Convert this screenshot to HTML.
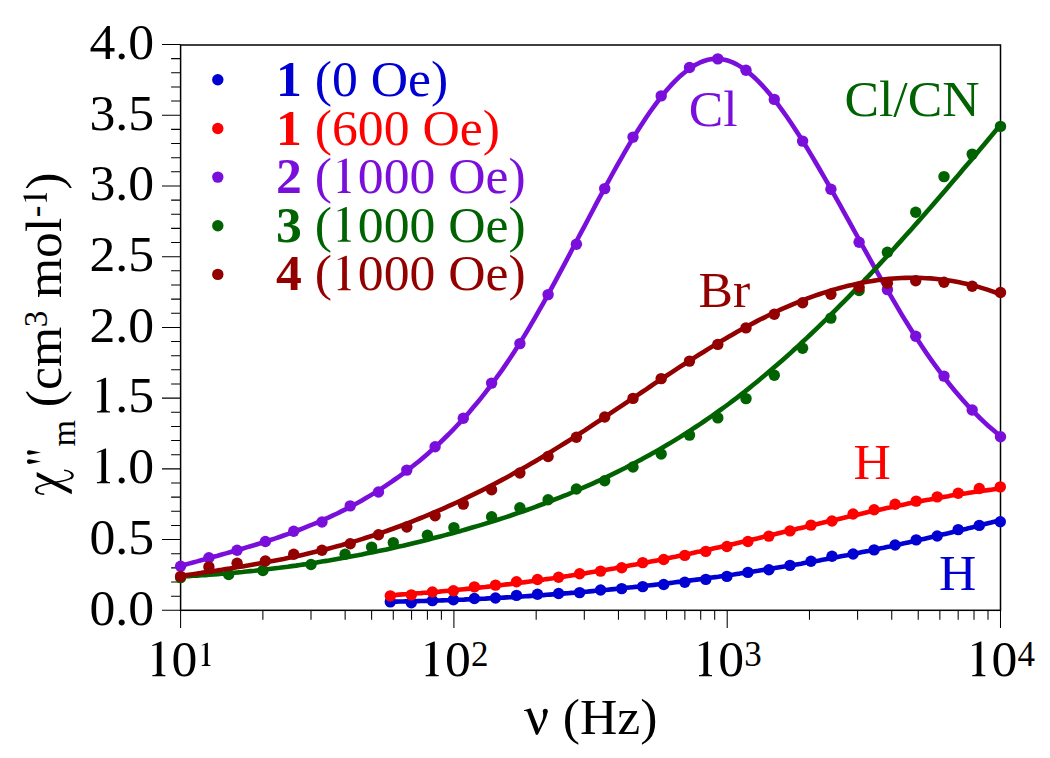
<!DOCTYPE html><html><head><meta charset="utf-8"><style>html,body{margin:0;padding:0;background:#fff;overflow:hidden}svg{display:block}</style></head><body><svg width="1050" height="758" viewBox="0 0 1050 758"><defs><path id="one" d="M0,0 L13,0 L13,-1.1 Q9.3,-1.4 9.1,-3 L9.1,-34.6 L8.2,-34.6 L-0.3,-30.9 L0,-30.3 L4.4,-31.3 L4.4,-3 Q4.2,-1.4 0,-1.1 Z"/></defs><rect width="1050" height="758" fill="#fff"/><rect x="180.6" y="45.0" width="819.9" height="565.3" fill="none" stroke="#000" stroke-width="1.5"/><path d="M162,610.30H180.6 M171.1,596.15H180.6 M171.1,582.01H180.6 M171.1,567.87H180.6 M171.1,553.72H180.6 M162,539.57H180.6 M171.1,525.43H180.6 M171.1,511.28H180.6 M171.1,497.14H180.6 M171.1,482.99H180.6 M162,468.85H180.6 M171.1,454.70H180.6 M171.1,440.56H180.6 M171.1,426.41H180.6 M171.1,412.27H180.6 M162,398.12H180.6 M171.1,383.98H180.6 M171.1,369.83H180.6 M171.1,355.69H180.6 M171.1,341.54H180.6 M162,327.40H180.6 M171.1,313.25H180.6 M171.1,299.11H180.6 M171.1,284.96H180.6 M171.1,270.82H180.6 M162,256.68H180.6 M171.1,242.53H180.6 M171.1,228.38H180.6 M171.1,214.24H180.6 M171.1,200.10H180.6 M162,185.95H180.6 M171.1,171.80H180.6 M171.1,157.66H180.6 M171.1,143.51H180.6 M171.1,129.37H180.6 M162,115.22H180.6 M171.1,101.08H180.6 M171.1,86.93H180.6 M171.1,72.79H180.6 M171.1,58.64H180.6 M162,44.50H180.6 M180.60,610.3V628 M262.87,610.3V619.7 M311.00,610.3V619.7 M345.14,610.3V619.7 M371.63,610.3V619.7 M393.27,610.3V619.7 M411.57,610.3V619.7 M427.41,610.3V619.7 M441.39,610.3V619.7 M453.90,610.3V628 M536.17,610.3V619.7 M584.30,610.3V619.7 M618.44,610.3V619.7 M644.93,610.3V619.7 M666.57,610.3V619.7 M684.87,610.3V619.7 M700.71,610.3V619.7 M714.69,610.3V619.7 M727.20,610.3V628 M809.47,610.3V619.7 M857.60,610.3V619.7 M891.74,610.3V619.7 M918.23,610.3V619.7 M939.87,610.3V619.7 M958.17,610.3V619.7 M974.01,610.3V619.7 M987.99,610.3V619.7 M1000.50,610.3V628" stroke="#000" stroke-width="1.05" fill="none"/><g fill="#0000d2"><path d="M390.3,601.7 L393.4,601.7 L396.4,601.6 L399.5,601.5 L402.6,601.5 L405.6,601.4 L408.7,601.4 L411.8,601.3 L414.8,601.2 L417.9,601.1 L421.0,601.0 L424.0,601.0 L427.1,600.9 L430.1,600.8 L433.2,600.7 L436.3,600.6 L439.3,600.5 L442.4,600.4 L445.5,600.3 L448.5,600.2 L451.6,600.1 L454.7,599.9 L457.7,599.8 L460.8,599.7 L463.9,599.6 L466.9,599.4 L470.0,599.3 L473.1,599.2 L476.1,599.0 L479.2,598.9 L482.3,598.7 L485.3,598.6 L488.4,598.4 L491.5,598.3 L494.5,598.1 L497.6,597.9 L500.7,597.8 L503.7,597.6 L506.8,597.4 L509.8,597.3 L512.9,597.1 L516.0,596.9 L519.0,596.7 L522.1,596.5 L525.2,596.3 L528.2,596.1 L531.3,595.9 L534.4,595.7 L537.4,595.5 L540.5,595.3 L543.6,595.1 L546.6,594.8 L549.7,594.6 L552.8,594.4 L555.8,594.2 L558.9,593.9 L562.0,593.7 L565.0,593.4 L568.1,593.2 L571.2,592.9 L574.2,592.7 L577.3,592.4 L580.4,592.2 L583.4,591.9 L586.5,591.7 L589.5,591.4 L592.6,591.1 L595.7,590.8 L598.7,590.5 L601.8,590.3 L604.9,590.0 L607.9,589.7 L611.0,589.4 L614.1,589.1 L617.1,588.8 L620.2,588.5 L623.3,588.2 L626.3,587.8 L629.4,587.5 L632.5,587.2 L635.5,586.9 L638.6,586.6 L641.7,586.2 L644.7,585.9 L647.8,585.5 L650.9,585.2 L653.9,584.9 L657.0,584.5 L660.0,584.1 L663.1,583.8 L666.2,583.4 L669.2,583.1 L672.3,582.7 L675.4,582.3 L678.4,581.9 L681.5,581.6 L684.6,581.2 L687.6,580.8 L690.7,580.4 L693.8,580.0 L696.8,579.6 L699.9,579.2 L703.0,578.8 L706.0,578.4 L709.1,577.9 L712.2,577.5 L715.2,577.1 L718.3,576.7 L721.4,576.2 L724.4,575.8 L727.5,575.4 L730.6,574.9 L733.6,574.5 L736.7,574.0 L739.7,573.6 L742.8,573.1 L745.9,572.7 L748.9,572.2 L752.0,571.7 L755.1,571.2 L758.1,570.8 L761.2,570.3 L764.3,569.8 L767.3,569.3 L770.4,568.8 L773.5,568.3 L776.5,567.8 L779.6,567.3 L782.7,566.8 L785.7,566.3 L788.8,565.8 L791.9,565.2 L794.9,564.7 L798.0,564.2 L801.1,563.7 L804.1,563.1 L807.2,562.6 L810.2,562.0 L813.3,561.5 L816.4,560.9 L819.4,560.4 L822.5,559.8 L825.6,559.2 L828.6,558.7 L831.7,558.1 L834.8,557.5 L837.8,556.9 L840.9,556.3 L844.0,555.7 L847.0,555.2 L850.1,554.6 L853.2,554.0 L856.2,553.3 L859.3,552.7 L862.4,552.1 L865.4,551.5 L868.5,550.9 L871.6,550.2 L874.6,549.6 L877.7,549.0 L880.8,548.3 L883.8,547.7 L886.9,547.0 L889.9,546.4 L893.0,545.7 L896.1,545.1 L899.1,544.4 L902.2,543.7 L905.3,543.1 L908.3,542.4 L911.4,541.7 L914.5,541.0 L917.5,540.3 L920.6,539.6 L923.7,538.9 L926.7,538.2 L929.8,537.5 L932.9,536.8 L935.9,536.1 L939.0,535.4 L942.1,534.6 L945.1,533.9 L948.2,533.2 L951.3,532.4 L954.3,531.7 L957.4,531.0 L960.5,530.2 L963.5,529.4 L966.6,528.7 L969.6,527.9 L972.7,527.2 L975.8,526.4 L978.8,525.6 L981.9,524.8 L985.0,524.0 L988.0,523.2 L991.1,522.5 L994.2,521.7 L997.2,520.9 L1000.3,520.0" fill="none" stroke="#0000d2" stroke-width="4.6" stroke-linejoin="round"/><circle cx="390.3" cy="601.9" r="5.7"/><circle cx="411.3" cy="602.8" r="5.7"/><circle cx="432.4" cy="600.6" r="5.7"/><circle cx="453.4" cy="599.7" r="5.7"/><circle cx="474.4" cy="598.5" r="5.7"/><circle cx="495.5" cy="598.0" r="5.7"/><circle cx="516.5" cy="595.4" r="5.7"/><circle cx="537.5" cy="594.2" r="5.7"/><circle cx="558.6" cy="593.5" r="5.7"/><circle cx="579.6" cy="592.6" r="5.7"/><circle cx="600.6" cy="590.0" r="5.7"/><circle cx="621.7" cy="588.6" r="5.7"/><circle cx="642.7" cy="586.6" r="5.7"/><circle cx="663.7" cy="584.5" r="5.7"/><circle cx="684.8" cy="582.3" r="5.7"/><circle cx="705.8" cy="579.4" r="5.7"/><circle cx="726.9" cy="576.4" r="5.7"/><circle cx="747.9" cy="572.4" r="5.7"/><circle cx="768.9" cy="569.7" r="5.7"/><circle cx="790.0" cy="565.4" r="5.7"/><circle cx="811.0" cy="561.3" r="5.7"/><circle cx="832.0" cy="556.2" r="5.7"/><circle cx="853.1" cy="554.0" r="5.7"/><circle cx="874.1" cy="549.9" r="5.7"/><circle cx="895.1" cy="545.0" r="5.7"/><circle cx="916.2" cy="539.9" r="5.7"/><circle cx="937.2" cy="536.0" r="5.7"/><circle cx="958.2" cy="529.6" r="5.7"/><circle cx="979.3" cy="525.4" r="5.7"/><circle cx="1000.3" cy="521.7" r="5.7"/></g><g fill="#ff0000"><path d="M390.3,595.2 L393.4,595.0 L396.4,594.9 L399.5,594.6 L402.6,594.4 L405.6,594.2 L408.7,594.0 L411.8,593.8 L414.8,593.6 L417.9,593.3 L421.0,593.1 L424.0,592.8 L427.1,592.6 L430.1,592.3 L433.2,592.1 L436.3,591.8 L439.3,591.6 L442.4,591.3 L445.5,591.0 L448.5,590.7 L451.6,590.4 L454.7,590.1 L457.7,589.8 L460.8,589.5 L463.9,589.2 L466.9,588.9 L470.0,588.6 L473.1,588.3 L476.1,588.0 L479.2,587.6 L482.3,587.3 L485.3,587.0 L488.4,586.6 L491.5,586.3 L494.5,585.9 L497.6,585.5 L500.7,585.2 L503.7,584.8 L506.8,584.4 L509.8,584.1 L512.9,583.7 L516.0,583.3 L519.0,582.9 L522.1,582.5 L525.2,582.1 L528.2,581.7 L531.3,581.3 L534.4,580.9 L537.4,580.4 L540.5,580.0 L543.6,579.6 L546.6,579.1 L549.7,578.7 L552.8,578.3 L555.8,577.8 L558.9,577.4 L562.0,576.9 L565.0,576.4 L568.1,576.0 L571.2,575.5 L574.2,575.0 L577.3,574.5 L580.4,574.0 L583.4,573.5 L586.5,573.1 L589.5,572.5 L592.6,572.0 L595.7,571.5 L598.7,571.0 L601.8,570.5 L604.9,570.0 L607.9,569.4 L611.0,568.9 L614.1,568.4 L617.1,567.8 L620.2,567.3 L623.3,566.7 L626.3,566.2 L629.4,565.6 L632.5,565.0 L635.5,564.5 L638.6,563.9 L641.7,563.3 L644.7,562.7 L647.8,562.2 L650.9,561.6 L653.9,561.0 L657.0,560.4 L660.0,559.8 L663.1,559.1 L666.2,558.5 L669.2,557.9 L672.3,557.3 L675.4,556.7 L678.4,556.0 L681.5,555.4 L684.6,554.7 L687.6,554.1 L690.7,553.5 L693.8,552.8 L696.8,552.1 L699.9,551.5 L703.0,550.8 L706.0,550.1 L709.1,549.5 L712.2,548.8 L715.2,548.1 L718.3,547.4 L721.4,546.7 L724.4,546.0 L727.5,545.3 L730.6,544.6 L733.6,543.9 L736.7,543.2 L739.7,542.5 L742.8,541.8 L745.9,541.0 L748.9,540.3 L752.0,539.6 L755.1,538.9 L758.1,538.2 L761.2,537.4 L764.3,536.7 L767.3,536.0 L770.4,535.2 L773.5,534.5 L776.5,533.8 L779.6,533.0 L782.7,532.3 L785.7,531.6 L788.8,530.8 L791.9,530.1 L794.9,529.4 L798.0,528.6 L801.1,527.9 L804.1,527.2 L807.2,526.4 L810.2,525.7 L813.3,525.0 L816.4,524.2 L819.4,523.5 L822.5,522.8 L825.6,522.0 L828.6,521.3 L831.7,520.6 L834.8,519.9 L837.8,519.2 L840.9,518.4 L844.0,517.7 L847.0,517.0 L850.1,516.3 L853.2,515.6 L856.2,514.9 L859.3,514.2 L862.4,513.5 L865.4,512.8 L868.5,512.1 L871.6,511.5 L874.6,510.8 L877.7,510.1 L880.8,509.4 L883.8,508.8 L886.9,508.1 L889.9,507.5 L893.0,506.8 L896.1,506.2 L899.1,505.5 L902.2,504.9 L905.3,504.3 L908.3,503.6 L911.4,503.0 L914.5,502.4 L917.5,501.8 L920.6,501.2 L923.7,500.6 L926.7,500.0 L929.8,499.5 L932.9,498.9 L935.9,498.3 L939.0,497.8 L942.1,497.2 L945.1,496.7 L948.2,496.2 L951.3,495.6 L954.3,495.1 L957.4,494.6 L960.5,494.1 L963.5,493.6 L966.6,493.2 L969.6,492.7 L972.7,492.2 L975.8,491.8 L978.8,491.3 L981.9,490.9 L985.0,490.5 L988.0,490.1 L991.1,489.7 L994.2,489.3 L997.2,488.9 L1000.3,488.5" fill="none" stroke="#ff0000" stroke-width="4.6" stroke-linejoin="round"/><circle cx="390.3" cy="595.9" r="5.7"/><circle cx="411.3" cy="594.9" r="5.7"/><circle cx="432.4" cy="592.0" r="5.7"/><circle cx="453.4" cy="590.8" r="5.7"/><circle cx="474.4" cy="586.9" r="5.7"/><circle cx="495.5" cy="585.1" r="5.7"/><circle cx="516.5" cy="581.7" r="5.7"/><circle cx="537.5" cy="579.5" r="5.7"/><circle cx="558.6" cy="577.3" r="5.7"/><circle cx="579.6" cy="573.7" r="5.7"/><circle cx="600.6" cy="571.1" r="5.7"/><circle cx="621.7" cy="567.7" r="5.7"/><circle cx="642.7" cy="562.6" r="5.7"/><circle cx="663.7" cy="559.5" r="5.7"/><circle cx="684.8" cy="555.4" r="5.7"/><circle cx="705.8" cy="551.4" r="5.7"/><circle cx="726.9" cy="546.5" r="5.7"/><circle cx="747.9" cy="541.5" r="5.7"/><circle cx="768.9" cy="536.1" r="5.7"/><circle cx="790.0" cy="530.9" r="5.7"/><circle cx="811.0" cy="525.1" r="5.7"/><circle cx="832.0" cy="521.0" r="5.7"/><circle cx="853.1" cy="514.0" r="5.7"/><circle cx="874.1" cy="509.8" r="5.7"/><circle cx="895.1" cy="504.3" r="5.7"/><circle cx="916.2" cy="501.1" r="5.7"/><circle cx="937.2" cy="496.9" r="5.7"/><circle cx="958.2" cy="493.2" r="5.7"/><circle cx="979.3" cy="488.5" r="5.7"/><circle cx="1000.3" cy="486.9" r="5.7"/></g><g fill="#7a0fdc"><path d="M180.6,566.0 L184.7,564.8 L188.8,563.6 L193.0,562.5 L197.1,561.4 L201.2,560.2 L205.3,559.1 L209.4,558.0 L213.6,556.8 L217.7,555.7 L221.8,554.5 L225.9,553.4 L230.0,552.2 L234.2,551.0 L238.3,549.9 L242.4,548.7 L246.5,547.4 L250.6,546.2 L254.8,545.0 L258.9,543.7 L263.0,542.4 L267.1,541.1 L271.2,539.7 L275.4,538.4 L279.5,537.0 L283.6,535.5 L287.7,534.1 L291.8,532.6 L296.0,531.0 L300.1,529.5 L304.2,527.9 L308.3,526.2 L312.4,524.5 L316.6,522.8 L320.7,521.0 L324.8,519.2 L328.9,517.4 L333.0,515.4 L337.2,513.5 L341.3,511.4 L345.4,509.4 L349.5,507.2 L353.6,505.0 L357.8,502.8 L361.9,500.5 L366.0,498.1 L370.1,495.6 L374.2,493.1 L378.4,490.6 L382.5,487.9 L386.6,485.2 L390.7,482.4 L394.8,479.5 L399.0,476.6 L403.1,473.6 L407.2,470.5 L411.3,467.3 L415.4,464.0 L419.6,460.7 L423.7,457.2 L427.8,453.7 L431.9,450.1 L436.0,446.3 L440.2,442.5 L444.3,438.5 L448.4,434.5 L452.5,430.3 L456.6,426.0 L460.8,421.6 L464.9,417.1 L469.0,412.4 L473.1,407.6 L477.2,402.7 L481.4,397.6 L485.5,392.4 L489.6,387.0 L493.7,381.5 L497.8,375.9 L502.0,370.1 L506.1,364.1 L510.2,358.0 L514.3,351.7 L518.4,345.3 L522.6,338.6 L526.7,331.9 L530.8,324.9 L534.9,317.8 L539.0,310.6 L543.2,303.3 L547.3,295.9 L551.4,288.4 L555.5,280.8 L559.6,273.1 L563.8,265.4 L567.9,257.6 L572.0,249.8 L576.1,242.0 L580.2,234.1 L584.4,226.3 L588.5,218.5 L592.6,210.7 L596.7,202.9 L600.9,195.2 L605.0,187.5 L609.1,180.0 L613.2,172.5 L617.3,165.1 L621.5,157.8 L625.6,150.7 L629.7,143.7 L633.8,136.9 L637.9,130.2 L642.1,123.8 L646.2,117.5 L650.3,111.5 L654.4,105.8 L658.5,100.3 L662.7,95.0 L666.8,90.1 L670.9,85.4 L675.0,81.1 L679.1,77.1 L683.3,73.5 L687.4,70.2 L691.5,67.3 L695.6,64.8 L699.7,62.7 L703.9,61.0 L708.0,59.8 L712.1,59.1 L716.2,58.8 L720.3,59.0 L724.5,59.7 L728.6,60.8 L732.7,62.4 L736.8,64.4 L740.9,66.9 L745.1,69.7 L749.2,72.9 L753.3,76.5 L757.4,80.4 L761.5,84.6 L765.7,89.2 L769.8,94.0 L773.9,99.2 L778.0,104.5 L782.1,110.1 L786.3,116.0 L790.4,122.0 L794.5,128.2 L798.6,134.6 L802.7,141.1 L806.9,147.8 L811.0,154.6 L815.1,161.5 L819.2,168.5 L823.3,175.6 L827.5,182.8 L831.6,190.1 L835.7,197.4 L839.8,204.7 L843.9,212.2 L848.1,219.6 L852.2,227.1 L856.3,234.5 L860.4,242.0 L864.5,249.4 L868.7,256.9 L872.8,264.3 L876.9,271.6 L881.0,278.9 L885.1,286.2 L889.3,293.4 L893.4,300.4 L897.5,307.4 L901.6,314.3 L905.7,321.1 L909.9,327.7 L914.0,334.3 L918.1,340.6 L922.2,346.8 L926.3,352.9 L930.5,358.8 L934.6,364.6 L938.7,370.2 L942.8,375.7 L946.9,381.0 L951.1,386.2 L955.2,391.2 L959.3,396.0 L963.4,400.7 L967.5,405.3 L971.7,409.7 L975.8,413.9 L979.9,418.0 L984.0,421.9 L988.1,425.7 L992.3,429.3 L996.4,432.8 L1000.5,436.1" fill="none" stroke="#7a0fdc" stroke-width="4.6" stroke-linejoin="round"/><circle cx="180.6" cy="566.2" r="5.7"/><circle cx="208.9" cy="557.8" r="5.7"/><circle cx="237.1" cy="550.2" r="5.7"/><circle cx="265.4" cy="541.5" r="5.7"/><circle cx="293.7" cy="531.2" r="5.7"/><circle cx="322.0" cy="522.0" r="5.7"/><circle cx="350.2" cy="505.9" r="5.7"/><circle cx="378.5" cy="492.0" r="5.7"/><circle cx="406.8" cy="470.1" r="5.7"/><circle cx="435.1" cy="446.7" r="5.7"/><circle cx="463.3" cy="418.3" r="5.7"/><circle cx="491.6" cy="383.1" r="5.7"/><circle cx="519.9" cy="343.6" r="5.7"/><circle cx="548.1" cy="294.6" r="5.7"/><circle cx="576.4" cy="244.2" r="5.7"/><circle cx="604.7" cy="188.6" r="5.7"/><circle cx="633.0" cy="137.1" r="5.7"/><circle cx="661.2" cy="95.9" r="5.7"/><circle cx="689.5" cy="67.5" r="5.7"/><circle cx="717.8" cy="58.9" r="5.7"/><circle cx="746.0" cy="70.2" r="5.7"/><circle cx="774.3" cy="99.4" r="5.7"/><circle cx="802.6" cy="141.1" r="5.7"/><circle cx="830.9" cy="189.2" r="5.7"/><circle cx="859.1" cy="242.2" r="5.7"/><circle cx="887.4" cy="289.6" r="5.7"/><circle cx="915.7" cy="336.2" r="5.7"/><circle cx="944.0" cy="376.1" r="5.7"/><circle cx="972.2" cy="410.0" r="5.7"/><circle cx="1000.5" cy="436.8" r="5.7"/></g><g fill="#006200"><path d="M180.6,576.5 L184.7,576.3 L188.8,576.1 L193.0,575.8 L197.1,575.6 L201.2,575.3 L205.3,575.1 L209.4,574.8 L213.6,574.5 L217.7,574.1 L221.8,573.8 L225.9,573.5 L230.0,573.1 L234.2,572.7 L238.3,572.4 L242.4,572.0 L246.5,571.5 L250.6,571.1 L254.8,570.7 L258.9,570.2 L263.0,569.8 L267.1,569.3 L271.2,568.8 L275.4,568.3 L279.5,567.8 L283.6,567.2 L287.7,566.7 L291.8,566.1 L296.0,565.6 L300.1,565.0 L304.2,564.4 L308.3,563.7 L312.4,563.1 L316.6,562.5 L320.7,561.8 L324.8,561.1 L328.9,560.5 L333.0,559.8 L337.2,559.0 L341.3,558.3 L345.4,557.6 L349.5,556.8 L353.6,556.0 L357.8,555.3 L361.9,554.5 L366.0,553.6 L370.1,552.8 L374.2,552.0 L378.4,551.1 L382.5,550.2 L386.6,549.4 L390.7,548.5 L394.8,547.5 L399.0,546.6 L403.1,545.7 L407.2,544.7 L411.3,543.7 L415.4,542.7 L419.6,541.7 L423.7,540.7 L427.8,539.7 L431.9,538.6 L436.0,537.6 L440.2,536.5 L444.3,535.4 L448.4,534.3 L452.5,533.2 L456.6,532.0 L460.8,530.9 L464.9,529.7 L469.0,528.5 L473.1,527.3 L477.2,526.1 L481.4,524.9 L485.5,523.6 L489.6,522.3 L493.7,521.1 L497.8,519.8 L502.0,518.4 L506.1,517.1 L510.2,515.7 L514.3,514.3 L518.4,512.9 L522.6,511.5 L526.7,510.0 L530.8,508.6 L534.9,507.1 L539.0,505.5 L543.2,504.0 L547.3,502.4 L551.4,500.9 L555.5,499.2 L559.6,497.6 L563.8,495.9 L567.9,494.3 L572.0,492.5 L576.1,490.8 L580.2,489.0 L584.4,487.2 L588.5,485.4 L592.6,483.6 L596.7,481.7 L600.9,479.8 L605.0,477.9 L609.1,475.9 L613.2,473.9 L617.3,471.9 L621.5,469.8 L625.6,467.8 L629.7,465.6 L633.8,463.5 L637.9,461.3 L642.1,459.1 L646.2,456.8 L650.3,454.6 L654.4,452.2 L658.5,449.9 L662.7,447.5 L666.8,445.1 L670.9,442.6 L675.0,440.1 L679.1,437.6 L683.3,435.0 L687.4,432.4 L691.5,429.7 L695.6,427.0 L699.7,424.3 L703.9,421.5 L708.0,418.7 L712.1,415.9 L716.2,412.9 L720.3,410.0 L724.5,407.0 L728.6,404.0 L732.7,400.9 L736.8,397.8 L740.9,394.6 L745.1,391.4 L749.2,388.1 L753.3,384.8 L757.4,381.5 L761.5,378.1 L765.7,374.6 L769.8,371.1 L773.9,367.6 L778.0,364.0 L782.1,360.4 L786.3,356.8 L790.4,353.1 L794.5,349.3 L798.6,345.6 L802.7,341.7 L806.9,337.9 L811.0,334.0 L815.1,330.1 L819.2,326.1 L823.3,322.1 L827.5,318.1 L831.6,314.0 L835.7,309.9 L839.8,305.7 L843.9,301.6 L848.1,297.4 L852.2,293.1 L856.3,288.9 L860.4,284.6 L864.5,280.2 L868.7,275.9 L872.8,271.5 L876.9,267.1 L881.0,262.6 L885.1,258.2 L889.3,253.7 L893.4,249.2 L897.5,244.6 L901.6,240.1 L905.7,235.5 L909.9,230.9 L914.0,226.2 L918.1,221.6 L922.2,216.9 L926.3,212.2 L930.5,207.5 L934.6,202.7 L938.7,198.0 L942.8,193.2 L946.9,188.4 L951.1,183.6 L955.2,178.8 L959.3,174.0 L963.4,169.1 L967.5,164.3 L971.7,159.4 L975.8,154.5 L979.9,149.6 L984.0,144.7 L988.1,139.7 L992.3,134.8 L996.4,129.8 L1000.5,124.9" fill="none" stroke="#006200" stroke-width="4.6" stroke-linejoin="round"/><circle cx="180.6" cy="577.6" r="5.7"/><circle cx="228.7" cy="574.5" r="5.7"/><circle cx="262.9" cy="570.5" r="5.7"/><circle cx="311.0" cy="564.5" r="5.7"/><circle cx="345.1" cy="554.3" r="5.7"/><circle cx="371.6" cy="547.1" r="5.7"/><circle cx="393.3" cy="542.6" r="5.7"/><circle cx="427.4" cy="535.2" r="5.7"/><circle cx="453.9" cy="527.6" r="5.7"/><circle cx="491.6" cy="516.8" r="5.7"/><circle cx="519.9" cy="507.8" r="5.7"/><circle cx="548.1" cy="499.7" r="5.7"/><circle cx="576.4" cy="489.0" r="5.7"/><circle cx="604.7" cy="480.7" r="5.7"/><circle cx="633.0" cy="467.0" r="5.7"/><circle cx="661.2" cy="454.0" r="5.7"/><circle cx="689.5" cy="435.1" r="5.7"/><circle cx="717.8" cy="417.9" r="5.7"/><circle cx="746.0" cy="398.6" r="5.7"/><circle cx="774.3" cy="375.2" r="5.7"/><circle cx="802.6" cy="348.2" r="5.7"/><circle cx="830.9" cy="318.1" r="5.7"/><circle cx="859.1" cy="290.5" r="5.7"/><circle cx="887.4" cy="252.3" r="5.7"/><circle cx="915.7" cy="212.2" r="5.7"/><circle cx="944.0" cy="176.6" r="5.7"/><circle cx="972.2" cy="154.1" r="5.7"/><circle cx="1000.5" cy="126.4" r="5.7"/></g><g fill="#920000"><path d="M180.6,576.1 L184.7,575.4 L188.8,574.8 L193.0,574.2 L197.1,573.6 L201.2,572.9 L205.3,572.3 L209.4,571.7 L213.6,571.1 L217.7,570.4 L221.8,569.8 L225.9,569.1 L230.0,568.5 L234.2,567.8 L238.3,567.1 L242.4,566.4 L246.5,565.7 L250.6,565.0 L254.8,564.3 L258.9,563.6 L263.0,562.8 L267.1,562.1 L271.2,561.3 L275.4,560.5 L279.5,559.7 L283.6,558.9 L287.7,558.0 L291.8,557.2 L296.0,556.3 L300.1,555.4 L304.2,554.5 L308.3,553.5 L312.4,552.6 L316.6,551.6 L320.7,550.6 L324.8,549.6 L328.9,548.5 L333.0,547.4 L337.2,546.3 L341.3,545.2 L345.4,544.0 L349.5,542.9 L353.6,541.6 L357.8,540.4 L361.9,539.1 L366.0,537.8 L370.1,536.5 L374.2,535.2 L378.4,533.8 L382.5,532.4 L386.6,531.0 L390.7,529.5 L394.8,528.0 L399.0,526.5 L403.1,525.0 L407.2,523.4 L411.3,521.8 L415.4,520.2 L419.6,518.5 L423.7,516.9 L427.8,515.2 L431.9,513.4 L436.0,511.7 L440.2,509.9 L444.3,508.1 L448.4,506.2 L452.5,504.4 L456.6,502.5 L460.8,500.6 L464.9,498.6 L469.0,496.6 L473.1,494.6 L477.2,492.6 L481.4,490.6 L485.5,488.5 L489.6,486.4 L493.7,484.2 L497.8,482.1 L502.0,479.9 L506.1,477.7 L510.2,475.4 L514.3,473.1 L518.4,470.9 L522.6,468.5 L526.7,466.2 L530.8,463.8 L534.9,461.4 L539.0,459.0 L543.2,456.5 L547.3,454.0 L551.4,451.5 L555.5,448.9 L559.6,446.4 L563.8,443.8 L567.9,441.2 L572.0,438.6 L576.1,435.9 L580.2,433.2 L584.4,430.6 L588.5,427.9 L592.6,425.1 L596.7,422.4 L600.9,419.7 L605.0,416.9 L609.1,414.2 L613.2,411.4 L617.3,408.7 L621.5,405.9 L625.6,403.1 L629.7,400.3 L633.8,397.6 L637.9,394.8 L642.1,392.0 L646.2,389.3 L650.3,386.5 L654.4,383.7 L658.5,381.0 L662.7,378.2 L666.8,375.5 L670.9,372.8 L675.0,370.1 L679.1,367.4 L683.3,364.7 L687.4,362.1 L691.5,359.5 L695.6,356.8 L699.7,354.2 L703.9,351.7 L708.0,349.1 L712.1,346.6 L716.2,344.1 L720.3,341.6 L724.5,339.2 L728.6,336.8 L732.7,334.4 L736.8,332.1 L740.9,329.8 L745.1,327.5 L749.2,325.3 L753.3,323.1 L757.4,320.9 L761.5,318.8 L765.7,316.8 L769.8,314.7 L773.9,312.8 L778.0,310.8 L782.1,308.9 L786.3,307.1 L790.4,305.3 L794.5,303.6 L798.6,301.9 L802.7,300.3 L806.9,298.7 L811.0,297.2 L815.1,295.7 L819.2,294.3 L823.3,292.9 L827.5,291.6 L831.6,290.3 L835.7,289.1 L839.8,288.0 L843.9,286.9 L848.1,285.8 L852.2,284.9 L856.3,284.0 L860.4,283.1 L864.5,282.3 L868.7,281.6 L872.8,280.9 L876.9,280.3 L881.0,279.8 L885.1,279.3 L889.3,278.9 L893.4,278.5 L897.5,278.2 L901.6,278.0 L905.7,277.9 L909.9,277.8 L914.0,277.8 L918.1,277.8 L922.2,278.0 L926.3,278.2 L930.5,278.4 L934.6,278.8 L938.7,279.2 L942.8,279.7 L946.9,280.2 L951.1,280.8 L955.2,281.5 L959.3,282.3 L963.4,283.2 L967.5,284.1 L971.7,285.1 L975.8,286.2 L979.9,287.4 L984.0,288.6 L988.1,289.9 L992.3,291.4 L996.4,292.8 L1000.5,294.4" fill="none" stroke="#920000" stroke-width="4.6" stroke-linejoin="round"/><circle cx="180.6" cy="576.4" r="5.7"/><circle cx="208.9" cy="566.9" r="5.7"/><circle cx="237.1" cy="563.3" r="5.7"/><circle cx="265.4" cy="561.0" r="5.7"/><circle cx="293.7" cy="554.3" r="5.7"/><circle cx="322.0" cy="550.2" r="5.7"/><circle cx="350.2" cy="543.8" r="5.7"/><circle cx="378.5" cy="534.8" r="5.7"/><circle cx="406.8" cy="527.0" r="5.7"/><circle cx="435.1" cy="515.7" r="5.7"/><circle cx="463.3" cy="504.1" r="5.7"/><circle cx="491.6" cy="489.7" r="5.7"/><circle cx="519.9" cy="473.0" r="5.7"/><circle cx="548.1" cy="456.5" r="5.7"/><circle cx="576.4" cy="437.3" r="5.7"/><circle cx="604.7" cy="417.0" r="5.7"/><circle cx="633.0" cy="398.4" r="5.7"/><circle cx="661.2" cy="378.6" r="5.7"/><circle cx="689.5" cy="361.1" r="5.7"/><circle cx="717.8" cy="344.4" r="5.7"/><circle cx="746.0" cy="327.9" r="5.7"/><circle cx="774.3" cy="314.3" r="5.7"/><circle cx="802.6" cy="302.7" r="5.7"/><circle cx="830.9" cy="294.2" r="5.7"/><circle cx="859.1" cy="287.3" r="5.7"/><circle cx="887.4" cy="283.2" r="5.7"/><circle cx="915.7" cy="280.8" r="5.7"/><circle cx="944.0" cy="282.3" r="5.7"/><circle cx="972.2" cy="286.3" r="5.7"/><circle cx="1000.5" cy="292.5" r="5.7"/></g><g font-family="'Liberation Serif', serif" font-size="51.7" fill="#000"><text x="154" y="624.6" text-anchor="end">0.0</text><text x="154" y="553.9" text-anchor="end">0.5</text><use href="#one" transform="translate(96.97,483.15)"/><text x="115.22" y="483.1">.0</text><use href="#one" transform="translate(96.97,412.43)"/><text x="115.22" y="412.4">.5</text><text x="154" y="341.7" text-anchor="end">2.0</text><text x="154" y="271.0" text-anchor="end">2.5</text><text x="154" y="200.2" text-anchor="end">3.0</text><text x="154" y="129.5" text-anchor="end">3.5</text><text x="154" y="58.8" text-anchor="end">4.0</text><use href="#one" transform="translate(152.40,676.20)"/><text x="171.6" y="676.2">0</text><use href="#one" transform="translate(201.70,666.10) scale(0.6770)"/><use href="#one" transform="translate(425.70,676.20)"/><text x="444.9" y="676.2">0</text><text x="470.9" y="666.2" font-size="35">2</text><use href="#one" transform="translate(699.00,676.20)"/><text x="718.2" y="676.2">0</text><text x="744.2" y="666.2" font-size="35">3</text><use href="#one" transform="translate(972.30,676.20)"/><text x="991.5" y="676.2">0</text><text x="1017.5" y="666.2" font-size="35">4</text></g><g fill="#000"><path d="M524,710.3 L530.6,708.2 L538.8,729 L537.2,734.7 L535.9,734.7 L527.2,711.4 Q526,710.6 524,711.1 Z"/><path d="M536.4,734.2 L542.6,719.5 Q543.7,716.2 543.1,712.5 L547.4,712.6 Q546.8,717 544.3,721.8 L537.8,734.7 Z"/><circle cx="545.3" cy="711.3" r="2.5"/></g><g font-family="'Liberation Serif', serif" font-size="51.7" fill="#000"><text x="562.7" y="733.6">(Hz)</text><g transform="translate(61.3,495.5) rotate(-90)"><text x="48.9" y="14" font-size="34">m</text><text x="88.3" y="0">(cm</text><text x="168.2" y="-14.5" font-size="33">3</text><text x="197.4" y="0">mol</text><text x="278.2" y="-14.5" font-size="35">-</text><use href="#one" transform="translate(293.80,-14.50) scale(0.6770)"/><text x="305.7" y="0">)</text></g><path d="M36.7,471.9 L36.7,476.5 L71.8,494.3 L71.8,489.7 Z" fill="#000"/><path d="M64.1,470.3 C69.5,470.6 73.2,473.8 72.6,476.2 C71.8,478.9 66,480.4 60,481.4 C52,482.8 44,484.2 39.5,486.2 C35.8,488 35.6,491.2 37.8,492.6 C39.6,493.8 42,494.2 44.3,494.3" fill="none" stroke="#000" stroke-width="1.5"/><path d="M70.8,472.6 C73.4,474.3 73.2,477.2 70.6,478.4" fill="none" stroke="#000" stroke-width="2.2"/><path d="M37.8,487 C35.4,488.8 35.6,491.6 38.2,492.8" fill="none" stroke="#000" stroke-width="2.2"/><path d="M41,452.5 L29.2,450.2 A2.3,2.3 0 0 0 29.2,454.8 Z" fill="#000"/><path d="M41,461.6 L29.2,459.3 A2.3,2.3 0 0 0 29.2,463.90000000000003 Z" fill="#000"/></g><g font-family="'Liberation Serif', serif" font-size="51.7"><circle cx="217.8" cy="79.80" r="5.7" fill="#0000d2"/><text x="276" y="95.9" fill="#0000d2"><tspan font-weight="bold">1</tspan> (0 Oe)</text><circle cx="217.8" cy="128.45" r="5.7" fill="#ff0000"/><text x="276" y="144.5" fill="#ff0000"><tspan font-weight="bold">1</tspan> (600 Oe)</text><circle cx="217.8" cy="177.10" r="5.7" fill="#7a0fdc"/><text x="276" y="193.1" fill="#7a0fdc"><tspan font-weight="bold">2</tspan> (</text><use href="#one" transform="translate(337.77,193.10)" fill="#7a0fdc"/><text x="357.84" y="193.1" fill="#7a0fdc">000 Oe)</text><circle cx="217.8" cy="225.75" r="5.7" fill="#006200"/><text x="276" y="241.7" fill="#006200"><tspan font-weight="bold">3</tspan> (</text><use href="#one" transform="translate(337.77,241.70)" fill="#006200"/><text x="357.84" y="241.7" fill="#006200">000 Oe)</text><circle cx="217.8" cy="274.40" r="5.7" fill="#920000"/><text x="276" y="290.3" fill="#920000"><tspan font-weight="bold">4</tspan> (</text><use href="#one" transform="translate(337.77,290.30)" fill="#920000"/><text x="357.84" y="290.3" fill="#920000">000 Oe)</text><text x="688.8" y="125.5" fill="#7a0fdc">Cl</text><text x="844.5" y="116.3" fill="#006200">Cl/CN</text><text x="698.5" y="307.4" fill="#920000">Br</text><text x="853.6" y="478.9" fill="#ff0000">H</text><text x="939.1" y="590.4" fill="#0000d2">H</text></g></svg></body></html>
